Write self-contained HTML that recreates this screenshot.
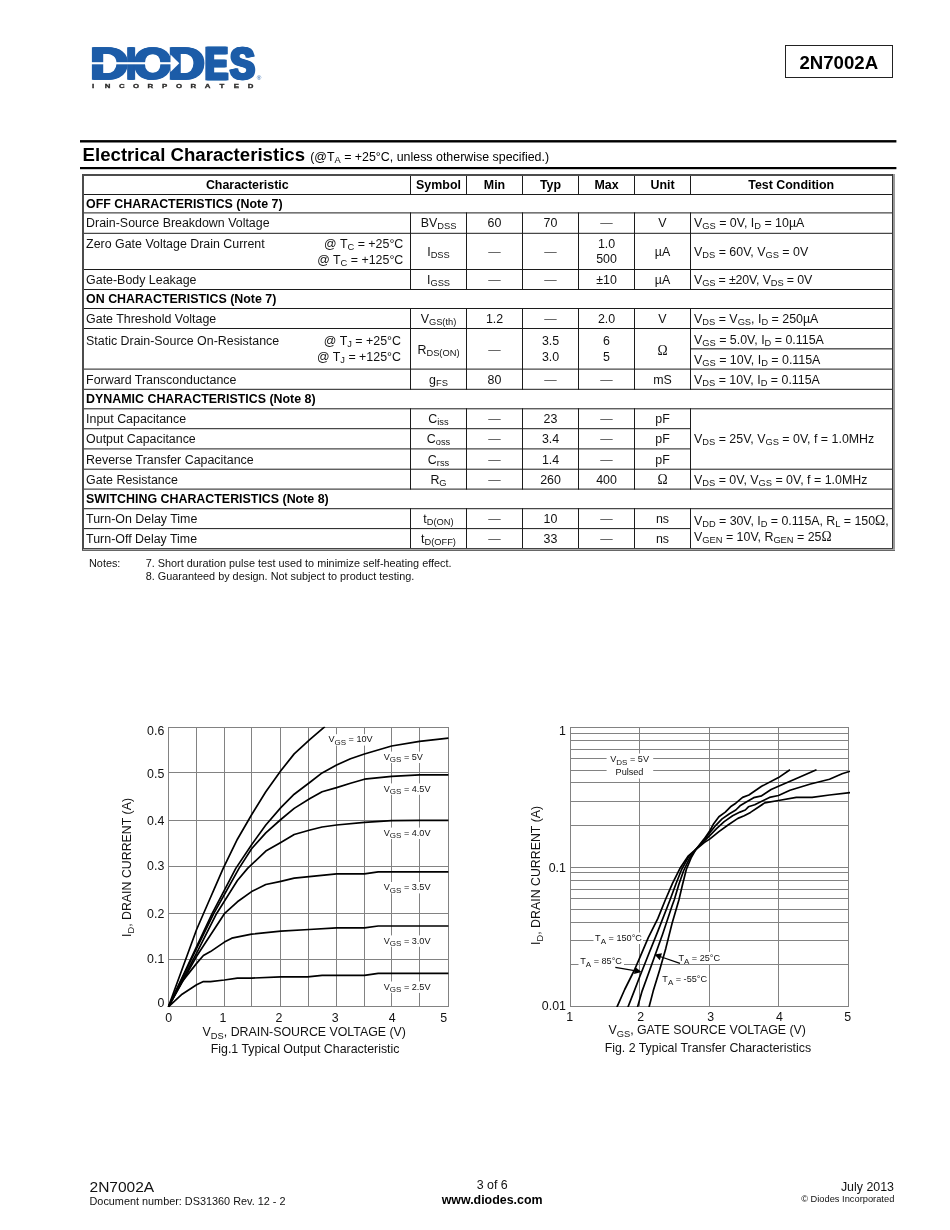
<!DOCTYPE html>
<html lang="en"><head><meta charset="utf-8"><title>2N7002A - Electrical Characteristics</title>
<style>
html,body{margin:0;padding:0;background:#fff}
body{width:950px;height:1230px;position:relative;overflow:hidden;font-family:"Liberation Sans",Arial,Helvetica,sans-serif;color:#111}
.sb{font-size:9.31px;position:relative;top:2px;line-height:0}
.sym{font-family:"Liberation Serif","DejaVu Serif",serif;font-size:110%;line-height:0}
.dash{color:#555}
svg text{font-family:"Liberation Sans",Arial,Helvetica,sans-serif}
#page{position:absolute;left:0;top:0;width:950px;height:1230px;will-change:transform}
</style></head><body><div id="page">

<svg width="950" height="110" viewBox="0 0 950 110" style="position:absolute;left:0;top:0" aria-label="Diodes Incorporated logo">
<filter id="hx" x="-5%" y="-5%" width="110%" height="110%"><feOffset in="SourceGraphic" dx="-0.9" dy="0" result="a"/><feOffset in="SourceGraphic" dx="0.9" dy="0" result="b"/><feMerge><feMergeNode in="a"/><feMergeNode in="b"/><feMergeNode in="SourceGraphic"/></feMerge></filter>
<g filter="url(#hx)">
<text transform="translate(90.17,78.95) scale(1.168,1)" font-size="45.04" font-weight="bold" fill="#1c5ca8" stroke="#1c5ca8" stroke-width="1.5" stroke-linejoin="miter">D</text>
<text transform="translate(126.50,78.95) scale(0.745,1)" font-size="45.04" font-weight="bold" fill="#1c5ca8" stroke="#1c5ca8" stroke-width="1.5" stroke-linejoin="miter">I</text>
<text transform="translate(134.02,78.85) scale(1.076,1)" font-size="44.75" font-weight="bold" fill="#1c5ca8" stroke="#1c5ca8" stroke-width="1.7" stroke-linejoin="miter">O</text>
<text transform="translate(168.32,78.95) scale(1.121,1)" font-size="45.04" font-weight="bold" fill="#1c5ca8" stroke="#1c5ca8" stroke-width="1.5" stroke-linejoin="miter">D</text>
<text transform="translate(204.90,78.50) scale(0.784,1)" font-size="43.74" font-weight="bold" fill="#1c5ca8" stroke="#1c5ca8" stroke-width="2.4" stroke-linejoin="miter">E</text>
<text transform="translate(230.35,78.55) scale(0.836,1)" font-size="43.88" font-weight="bold" fill="#1c5ca8" stroke="#1c5ca8" stroke-width="2.3" stroke-linejoin="miter">S</text>
</g>
<rect x="91" y="62.2" width="80.5" height="2.1" fill="#fff"/>
<polygon points="170.5,54.4 170.5,72.1 179.3,63.25" fill="#fff"/>
<text x="256.7" y="80.4" font-size="6.2" fill="#1c5ca8">&#174;</text>
<text transform="scale(1.4,1)" x="66.57 76.79 87.01 97.24 107.46 117.68 127.90 138.12 148.34 158.56 168.79 179.01" y="88.1" font-size="5.6" font-weight="bold" text-anchor="middle" fill="#2b2a29" stroke="#2b2a29" stroke-width="0.3">INCORPORATED</text>
</svg>
<div style="position:absolute;left:785px;top:45px;width:106px;height:31px;border:1px solid #222;box-sizing:content-box"></div>
<div style="position:absolute;left:538.80px;width:600px;text-align:center;top:55.56px;font-size:18.63px;line-height:14.0px;font-weight:bold;color:#000;white-space:nowrap;">2N7002A</div>
<div style="position:absolute;left:82.60px;top:147.56px;font-size:18.63px;line-height:14.0px;font-weight:bold;color:#000;white-space:nowrap;">Electrical Characteristics <span style="font-size:12.42px;font-weight:normal">(@T<span class="sb">A</span> = +25&deg;C, unless otherwise specified.)</span></div>
<div style="position:absolute;left:-52.75px;width:600px;text-align:center;top:177.72px;font-size:12.42px;line-height:14.0px;font-weight:bold;color:#000;white-space:nowrap;">Characteristic</div>
<div style="position:absolute;left:138.50px;width:600px;text-align:center;top:177.72px;font-size:12.42px;line-height:14.0px;font-weight:bold;color:#000;white-space:nowrap;">Symbol</div>
<div style="position:absolute;left:194.50px;width:600px;text-align:center;top:177.72px;font-size:12.42px;line-height:14.0px;font-weight:bold;color:#000;white-space:nowrap;">Min</div>
<div style="position:absolute;left:250.50px;width:600px;text-align:center;top:177.72px;font-size:12.42px;line-height:14.0px;font-weight:bold;color:#000;white-space:nowrap;">Typ</div>
<div style="position:absolute;left:306.50px;width:600px;text-align:center;top:177.72px;font-size:12.42px;line-height:14.0px;font-weight:bold;color:#000;white-space:nowrap;">Max</div>
<div style="position:absolute;left:362.50px;width:600px;text-align:center;top:177.72px;font-size:12.42px;line-height:14.0px;font-weight:bold;color:#000;white-space:nowrap;">Unit</div>
<div style="position:absolute;left:491.25px;width:600px;text-align:center;top:177.72px;font-size:12.42px;line-height:14.0px;font-weight:bold;color:#000;white-space:nowrap;">Test Condition</div>
<div style="position:absolute;left:86.10px;top:196.72px;font-size:12.42px;line-height:14.0px;font-weight:bold;color:#000;white-space:nowrap;">OFF CHARACTERISTICS (Note 7)</div>
<div style="position:absolute;left:86.10px;top:215.72px;font-size:12.42px;line-height:14.0px;color:#111;white-space:nowrap;">Drain-Source Breakdown Voltage</div>
<div style="position:absolute;left:138.50px;width:600px;text-align:center;top:215.72px;font-size:12.42px;line-height:14.0px;color:#111;white-space:nowrap;">BV<span class="sb">DSS</span></div>
<div style="position:absolute;left:194.50px;width:600px;text-align:center;top:215.72px;font-size:12.42px;line-height:14.0px;color:#111;white-space:nowrap;">60</div>
<div style="position:absolute;left:250.50px;width:600px;text-align:center;top:215.72px;font-size:12.42px;line-height:14.0px;color:#111;white-space:nowrap;">70</div>
<div style="position:absolute;left:306.50px;width:600px;text-align:center;top:215.72px;font-size:12.42px;line-height:14.0px;color:#111;white-space:nowrap;"><span class="dash">&mdash;</span></div>
<div style="position:absolute;left:362.50px;width:600px;text-align:center;top:215.72px;font-size:12.42px;line-height:14.0px;color:#111;white-space:nowrap;">V</div>
<div style="position:absolute;left:694.00px;top:215.72px;font-size:12.42px;line-height:14.0px;color:#111;white-space:nowrap;">V<span class="sb">GS</span> = 0V, I<span class="sb">D</span> = 10&micro;A</div>
<div style="position:absolute;left:86.10px;top:236.72px;font-size:12.42px;line-height:14.0px;color:#111;white-space:nowrap;">Zero Gate Voltage Drain Current</div>
<div style="position:absolute;left:-196.70px;width:600px;text-align:right;top:236.72px;font-size:12.42px;line-height:14.0px;color:#111;white-space:nowrap;">@ T<span class="sb">C</span> = +25&deg;C</div>
<div style="position:absolute;left:-196.70px;width:600px;text-align:right;top:252.72px;font-size:12.42px;line-height:14.0px;color:#111;white-space:nowrap;">@ T<span class="sb">C</span> = +125&deg;C</div>
<div style="position:absolute;left:138.50px;width:600px;text-align:center;top:244.72px;font-size:12.42px;line-height:14.0px;color:#111;white-space:nowrap;">I<span class="sb">DSS</span></div>
<div style="position:absolute;left:194.50px;width:600px;text-align:center;top:244.72px;font-size:12.42px;line-height:14.0px;color:#111;white-space:nowrap;"><span class="dash">&mdash;</span></div>
<div style="position:absolute;left:250.50px;width:600px;text-align:center;top:244.72px;font-size:12.42px;line-height:14.0px;color:#111;white-space:nowrap;"><span class="dash">&mdash;</span></div>
<div style="position:absolute;left:306.50px;width:600px;text-align:center;top:236.72px;font-size:12.42px;line-height:14.0px;color:#111;white-space:nowrap;">1.0</div>
<div style="position:absolute;left:306.50px;width:600px;text-align:center;top:251.72px;font-size:12.42px;line-height:14.0px;color:#111;white-space:nowrap;">500</div>
<div style="position:absolute;left:362.50px;width:600px;text-align:center;top:244.72px;font-size:12.42px;line-height:14.0px;color:#111;white-space:nowrap;">&micro;A</div>
<div style="position:absolute;left:694.00px;top:244.72px;font-size:12.42px;line-height:14.0px;color:#111;white-space:nowrap;">V<span class="sb">DS</span> = 60V, V<span class="sb">GS</span> = 0V</div>
<div style="position:absolute;left:86.10px;top:272.72px;font-size:12.42px;line-height:14.0px;color:#111;white-space:nowrap;">Gate-Body Leakage</div>
<div style="position:absolute;left:138.50px;width:600px;text-align:center;top:272.72px;font-size:12.42px;line-height:14.0px;color:#111;white-space:nowrap;">I<span class="sb">GSS</span></div>
<div style="position:absolute;left:194.50px;width:600px;text-align:center;top:272.72px;font-size:12.42px;line-height:14.0px;color:#111;white-space:nowrap;"><span class="dash">&mdash;</span></div>
<div style="position:absolute;left:250.50px;width:600px;text-align:center;top:272.72px;font-size:12.42px;line-height:14.0px;color:#111;white-space:nowrap;"><span class="dash">&mdash;</span></div>
<div style="position:absolute;left:306.50px;width:600px;text-align:center;top:272.72px;font-size:12.42px;line-height:14.0px;color:#111;white-space:nowrap;">&plusmn;10</div>
<div style="position:absolute;left:362.50px;width:600px;text-align:center;top:272.72px;font-size:12.42px;line-height:14.0px;color:#111;white-space:nowrap;">&micro;A</div>
<div style="position:absolute;left:694.00px;top:272.72px;font-size:12.42px;line-height:14.0px;color:#111;white-space:nowrap;letter-spacing:-0.15px;">V<span class="sb">GS</span> = &plusmn;20V, V<span class="sb">DS</span> = 0V</div>
<div style="position:absolute;left:86.10px;top:291.72px;font-size:12.42px;line-height:14.0px;font-weight:bold;color:#000;white-space:nowrap;">ON CHARACTERISTICS (Note 7)</div>
<div style="position:absolute;left:86.10px;top:311.72px;font-size:12.42px;line-height:14.0px;color:#111;white-space:nowrap;">Gate Threshold Voltage</div>
<div style="position:absolute;left:138.50px;width:600px;text-align:center;top:311.72px;font-size:12.42px;line-height:14.0px;color:#111;white-space:nowrap;">V<span class="sb">GS(th)</span></div>
<div style="position:absolute;left:194.50px;width:600px;text-align:center;top:311.72px;font-size:12.42px;line-height:14.0px;color:#111;white-space:nowrap;">1.2</div>
<div style="position:absolute;left:250.50px;width:600px;text-align:center;top:311.72px;font-size:12.42px;line-height:14.0px;color:#111;white-space:nowrap;"><span class="dash">&mdash;</span></div>
<div style="position:absolute;left:306.50px;width:600px;text-align:center;top:311.72px;font-size:12.42px;line-height:14.0px;color:#111;white-space:nowrap;">2.0</div>
<div style="position:absolute;left:362.50px;width:600px;text-align:center;top:311.72px;font-size:12.42px;line-height:14.0px;color:#111;white-space:nowrap;">V</div>
<div style="position:absolute;left:694.00px;top:311.72px;font-size:12.42px;line-height:14.0px;color:#111;white-space:nowrap;">V<span class="sb">DS</span> = V<span class="sb">GS</span>, I<span class="sb">D</span> = 250&micro;A</div>
<div style="position:absolute;left:86.10px;top:333.72px;font-size:12.42px;line-height:14.0px;color:#111;white-space:nowrap;">Static Drain-Source On-Resistance</div>
<div style="position:absolute;left:-199.00px;width:600px;text-align:right;top:333.72px;font-size:12.42px;line-height:14.0px;color:#111;white-space:nowrap;">@ T<span class="sb">J</span> = +25&deg;C</div>
<div style="position:absolute;left:-199.00px;width:600px;text-align:right;top:349.72px;font-size:12.42px;line-height:14.0px;color:#111;white-space:nowrap;">@ T<span class="sb">J</span> = +125&deg;C</div>
<div style="position:absolute;left:138.50px;width:600px;text-align:center;top:342.72px;font-size:12.42px;line-height:14.0px;color:#111;white-space:nowrap;">R<span class="sb">DS(ON)</span></div>
<div style="position:absolute;left:194.50px;width:600px;text-align:center;top:342.72px;font-size:12.42px;line-height:14.0px;color:#111;white-space:nowrap;"><span class="dash">&mdash;</span></div>
<div style="position:absolute;left:250.50px;width:600px;text-align:center;top:333.72px;font-size:12.42px;line-height:14.0px;color:#111;white-space:nowrap;">3.5</div>
<div style="position:absolute;left:250.50px;width:600px;text-align:center;top:349.72px;font-size:12.42px;line-height:14.0px;color:#111;white-space:nowrap;">3.0</div>
<div style="position:absolute;left:306.50px;width:600px;text-align:center;top:333.72px;font-size:12.42px;line-height:14.0px;color:#111;white-space:nowrap;">6</div>
<div style="position:absolute;left:306.50px;width:600px;text-align:center;top:349.72px;font-size:12.42px;line-height:14.0px;color:#111;white-space:nowrap;">5</div>
<div style="position:absolute;left:362.50px;width:600px;text-align:center;top:343.72px;font-size:12.42px;line-height:14.0px;color:#111;white-space:nowrap;"><span class="sym">&Omega;</span></div>
<div style="position:absolute;left:694.00px;top:332.72px;font-size:12.42px;line-height:14.0px;color:#111;white-space:nowrap;">V<span class="sb">GS</span> = 5.0V, I<span class="sb">D</span> = 0.115A</div>
<div style="position:absolute;left:694.00px;top:352.72px;font-size:12.42px;line-height:14.0px;color:#111;white-space:nowrap;">V<span class="sb">GS</span> = 10V, I<span class="sb">D</span> = 0.115A</div>
<div style="position:absolute;left:86.10px;top:372.72px;font-size:12.42px;line-height:14.0px;color:#111;white-space:nowrap;">Forward Transconductance</div>
<div style="position:absolute;left:138.50px;width:600px;text-align:center;top:372.72px;font-size:12.42px;line-height:14.0px;color:#111;white-space:nowrap;">g<span class="sb">FS</span></div>
<div style="position:absolute;left:194.50px;width:600px;text-align:center;top:372.72px;font-size:12.42px;line-height:14.0px;color:#111;white-space:nowrap;">80</div>
<div style="position:absolute;left:250.50px;width:600px;text-align:center;top:372.72px;font-size:12.42px;line-height:14.0px;color:#111;white-space:nowrap;"><span class="dash">&mdash;</span></div>
<div style="position:absolute;left:306.50px;width:600px;text-align:center;top:372.72px;font-size:12.42px;line-height:14.0px;color:#111;white-space:nowrap;"><span class="dash">&mdash;</span></div>
<div style="position:absolute;left:362.50px;width:600px;text-align:center;top:372.72px;font-size:12.42px;line-height:14.0px;color:#111;white-space:nowrap;">mS</div>
<div style="position:absolute;left:694.00px;top:372.72px;font-size:12.42px;line-height:14.0px;color:#111;white-space:nowrap;">V<span class="sb">DS</span> = 10V, I<span class="sb">D</span> = 0.115A</div>
<div style="position:absolute;left:86.10px;top:391.72px;font-size:12.42px;line-height:14.0px;font-weight:bold;color:#000;white-space:nowrap;">DYNAMIC CHARACTERISTICS (Note 8)</div>
<div style="position:absolute;left:86.10px;top:411.72px;font-size:12.42px;line-height:14.0px;color:#111;white-space:nowrap;">Input Capacitance</div>
<div style="position:absolute;left:138.50px;width:600px;text-align:center;top:411.72px;font-size:12.42px;line-height:14.0px;color:#111;white-space:nowrap;">C<span class="sb">iss</span></div>
<div style="position:absolute;left:194.50px;width:600px;text-align:center;top:411.72px;font-size:12.42px;line-height:14.0px;color:#111;white-space:nowrap;"><span class="dash">&mdash;</span></div>
<div style="position:absolute;left:250.50px;width:600px;text-align:center;top:411.72px;font-size:12.42px;line-height:14.0px;color:#111;white-space:nowrap;">23</div>
<div style="position:absolute;left:306.50px;width:600px;text-align:center;top:411.72px;font-size:12.42px;line-height:14.0px;color:#111;white-space:nowrap;"><span class="dash">&mdash;</span></div>
<div style="position:absolute;left:362.50px;width:600px;text-align:center;top:411.72px;font-size:12.42px;line-height:14.0px;color:#111;white-space:nowrap;">pF</div>
<div style="position:absolute;left:86.10px;top:431.72px;font-size:12.42px;line-height:14.0px;color:#111;white-space:nowrap;">Output Capacitance</div>
<div style="position:absolute;left:138.50px;width:600px;text-align:center;top:431.72px;font-size:12.42px;line-height:14.0px;color:#111;white-space:nowrap;">C<span class="sb">oss</span></div>
<div style="position:absolute;left:194.50px;width:600px;text-align:center;top:431.72px;font-size:12.42px;line-height:14.0px;color:#111;white-space:nowrap;"><span class="dash">&mdash;</span></div>
<div style="position:absolute;left:250.50px;width:600px;text-align:center;top:431.72px;font-size:12.42px;line-height:14.0px;color:#111;white-space:nowrap;">3.4</div>
<div style="position:absolute;left:306.50px;width:600px;text-align:center;top:431.72px;font-size:12.42px;line-height:14.0px;color:#111;white-space:nowrap;"><span class="dash">&mdash;</span></div>
<div style="position:absolute;left:362.50px;width:600px;text-align:center;top:431.72px;font-size:12.42px;line-height:14.0px;color:#111;white-space:nowrap;">pF</div>
<div style="position:absolute;left:694.00px;top:431.72px;font-size:12.42px;line-height:14.0px;color:#111;white-space:nowrap;">V<span class="sb">DS</span> = 25V, V<span class="sb">GS</span> = 0V, f = 1.0MHz</div>
<div style="position:absolute;left:86.10px;top:452.72px;font-size:12.42px;line-height:14.0px;color:#111;white-space:nowrap;">Reverse Transfer Capacitance</div>
<div style="position:absolute;left:138.50px;width:600px;text-align:center;top:452.72px;font-size:12.42px;line-height:14.0px;color:#111;white-space:nowrap;">C<span class="sb">rss</span></div>
<div style="position:absolute;left:194.50px;width:600px;text-align:center;top:452.72px;font-size:12.42px;line-height:14.0px;color:#111;white-space:nowrap;"><span class="dash">&mdash;</span></div>
<div style="position:absolute;left:250.50px;width:600px;text-align:center;top:452.72px;font-size:12.42px;line-height:14.0px;color:#111;white-space:nowrap;">1.4</div>
<div style="position:absolute;left:306.50px;width:600px;text-align:center;top:452.72px;font-size:12.42px;line-height:14.0px;color:#111;white-space:nowrap;"><span class="dash">&mdash;</span></div>
<div style="position:absolute;left:362.50px;width:600px;text-align:center;top:452.72px;font-size:12.42px;line-height:14.0px;color:#111;white-space:nowrap;">pF</div>
<div style="position:absolute;left:86.10px;top:472.72px;font-size:12.42px;line-height:14.0px;color:#111;white-space:nowrap;">Gate Resistance</div>
<div style="position:absolute;left:138.50px;width:600px;text-align:center;top:472.72px;font-size:12.42px;line-height:14.0px;color:#111;white-space:nowrap;">R<span class="sb">G</span></div>
<div style="position:absolute;left:194.50px;width:600px;text-align:center;top:472.72px;font-size:12.42px;line-height:14.0px;color:#111;white-space:nowrap;"><span class="dash">&mdash;</span></div>
<div style="position:absolute;left:250.50px;width:600px;text-align:center;top:472.72px;font-size:12.42px;line-height:14.0px;color:#111;white-space:nowrap;">260</div>
<div style="position:absolute;left:306.50px;width:600px;text-align:center;top:472.72px;font-size:12.42px;line-height:14.0px;color:#111;white-space:nowrap;">400</div>
<div style="position:absolute;left:362.50px;width:600px;text-align:center;top:472.72px;font-size:12.42px;line-height:14.0px;color:#111;white-space:nowrap;"><span class="sym">&Omega;</span></div>
<div style="position:absolute;left:694.00px;top:472.72px;font-size:12.42px;line-height:14.0px;color:#111;white-space:nowrap;">V<span class="sb">DS</span> = 0V, V<span class="sb">GS</span> = 0V, f = 1.0MHz</div>
<div style="position:absolute;left:86.10px;top:491.72px;font-size:12.42px;line-height:14.0px;font-weight:bold;color:#000;white-space:nowrap;">SWITCHING CHARACTERISTICS (Note 8)</div>
<div style="position:absolute;left:86.10px;top:511.72px;font-size:12.42px;line-height:14.0px;color:#111;white-space:nowrap;">Turn-On Delay Time</div>
<div style="position:absolute;left:138.50px;width:600px;text-align:center;top:511.72px;font-size:12.42px;line-height:14.0px;color:#111;white-space:nowrap;">t<span class="sb">D(ON)</span></div>
<div style="position:absolute;left:194.50px;width:600px;text-align:center;top:511.72px;font-size:12.42px;line-height:14.0px;color:#111;white-space:nowrap;"><span class="dash">&mdash;</span></div>
<div style="position:absolute;left:250.50px;width:600px;text-align:center;top:511.72px;font-size:12.42px;line-height:14.0px;color:#111;white-space:nowrap;">10</div>
<div style="position:absolute;left:306.50px;width:600px;text-align:center;top:511.72px;font-size:12.42px;line-height:14.0px;color:#111;white-space:nowrap;"><span class="dash">&mdash;</span></div>
<div style="position:absolute;left:362.50px;width:600px;text-align:center;top:511.72px;font-size:12.42px;line-height:14.0px;color:#111;white-space:nowrap;">ns</div>
<div style="position:absolute;left:86.10px;top:531.72px;font-size:12.42px;line-height:14.0px;color:#111;white-space:nowrap;">Turn-Off Delay Time</div>
<div style="position:absolute;left:138.50px;width:600px;text-align:center;top:531.72px;font-size:12.42px;line-height:14.0px;color:#111;white-space:nowrap;">t<span class="sb">D(OFF)</span></div>
<div style="position:absolute;left:194.50px;width:600px;text-align:center;top:531.72px;font-size:12.42px;line-height:14.0px;color:#111;white-space:nowrap;"><span class="dash">&mdash;</span></div>
<div style="position:absolute;left:250.50px;width:600px;text-align:center;top:531.72px;font-size:12.42px;line-height:14.0px;color:#111;white-space:nowrap;">33</div>
<div style="position:absolute;left:306.50px;width:600px;text-align:center;top:531.72px;font-size:12.42px;line-height:14.0px;color:#111;white-space:nowrap;"><span class="dash">&mdash;</span></div>
<div style="position:absolute;left:362.50px;width:600px;text-align:center;top:531.72px;font-size:12.42px;line-height:14.0px;color:#111;white-space:nowrap;">ns</div>
<div style="position:absolute;left:694.00px;top:513.72px;font-size:12.42px;line-height:14.0px;color:#111;white-space:nowrap;letter-spacing:-0.04px;">V<span class="sb">DD</span> = 30V, I<span class="sb">D</span> = 0.115A, R<span class="sb">L</span> = 150<span class="sym">&Omega;</span>,</div>
<div style="position:absolute;left:694.00px;top:529.72px;font-size:12.42px;line-height:14.0px;color:#111;white-space:nowrap;">V<span class="sb">GEN</span> = 10V, R<span class="sb">GEN</span> = 25<span class="sym">&Omega;</span></div>
<svg width="950" height="1230" viewBox="0 0 950 1230" style="position:absolute;left:0;top:0"><rect x="80.00" y="140.10" width="816.40" height="2.4" fill="#000"/><rect x="80.00" y="167.00" width="816.40" height="2.2" fill="#000"/><rect x="82.00" y="174.00" width="811.00" height="2" fill="#4c4c4c"/><rect x="82.00" y="174.00" width="2" height="376.00" fill="#4c4c4c"/><rect x="892.00" y="174.00" width="1" height="375.00" fill="#333"/><rect x="893.00" y="174.00" width="2" height="377.00" fill="#999"/><rect x="82.00" y="548.00" width="811.00" height="1" fill="#444"/><rect x="83.00" y="549.00" width="812.00" height="1" fill="#aaa"/><rect x="82.00" y="550.00" width="813.00" height="1" fill="#666"/><rect x="84.00" y="194.00" width="808.00" height="1" fill="#1c1c1c"/><rect x="84.00" y="212.40" width="808.00" height="1" fill="#1c1c1c"/><rect x="84.00" y="232.80" width="808.00" height="1" fill="#1c1c1c"/><rect x="84.00" y="269.00" width="808.00" height="1" fill="#1c1c1c"/><rect x="84.00" y="289.00" width="808.00" height="1" fill="#1c1c1c"/><rect x="84.00" y="308.00" width="808.00" height="1" fill="#1c1c1c"/><rect x="84.00" y="328.00" width="808.00" height="1" fill="#1c1c1c"/><rect x="84.00" y="368.60" width="808.00" height="1" fill="#1c1c1c"/><rect x="84.00" y="388.80" width="808.00" height="1" fill="#1c1c1c"/><rect x="84.00" y="408.30" width="808.00" height="1" fill="#1c1c1c"/><rect x="84.00" y="428.20" width="606.00" height="1" fill="#1c1c1c"/><rect x="84.00" y="448.40" width="606.00" height="1" fill="#1c1c1c"/><rect x="84.00" y="468.70" width="808.00" height="1" fill="#1c1c1c"/><rect x="84.00" y="488.60" width="808.00" height="1" fill="#1c1c1c"/><rect x="84.00" y="508.20" width="808.00" height="1" fill="#1c1c1c"/><rect x="84.00" y="528.10" width="606.00" height="1" fill="#1c1c1c"/><rect x="690.00" y="348.30" width="202.00" height="1.1" fill="#1c1c1c"/><rect x="410.00" y="176.00" width="1" height="19.00" fill="#1c1c1c"/><rect x="466.00" y="176.00" width="1" height="19.00" fill="#1c1c1c"/><rect x="522.00" y="176.00" width="1" height="19.00" fill="#1c1c1c"/><rect x="578.00" y="176.00" width="1" height="19.00" fill="#1c1c1c"/><rect x="634.00" y="176.00" width="1" height="19.00" fill="#1c1c1c"/><rect x="690.00" y="176.00" width="1" height="19.00" fill="#1c1c1c"/><rect x="410.00" y="212.40" width="1" height="77.60" fill="#1c1c1c"/><rect x="466.00" y="212.40" width="1" height="77.60" fill="#1c1c1c"/><rect x="522.00" y="212.40" width="1" height="77.60" fill="#1c1c1c"/><rect x="578.00" y="212.40" width="1" height="77.60" fill="#1c1c1c"/><rect x="634.00" y="212.40" width="1" height="77.60" fill="#1c1c1c"/><rect x="690.00" y="212.40" width="1" height="77.60" fill="#1c1c1c"/><rect x="410.00" y="308.00" width="1" height="81.80" fill="#1c1c1c"/><rect x="466.00" y="308.00" width="1" height="81.80" fill="#1c1c1c"/><rect x="522.00" y="308.00" width="1" height="81.80" fill="#1c1c1c"/><rect x="578.00" y="308.00" width="1" height="81.80" fill="#1c1c1c"/><rect x="634.00" y="308.00" width="1" height="81.80" fill="#1c1c1c"/><rect x="690.00" y="308.00" width="1" height="81.80" fill="#1c1c1c"/><rect x="410.00" y="408.30" width="1" height="81.30" fill="#1c1c1c"/><rect x="466.00" y="408.30" width="1" height="81.30" fill="#1c1c1c"/><rect x="522.00" y="408.30" width="1" height="81.30" fill="#1c1c1c"/><rect x="578.00" y="408.30" width="1" height="81.30" fill="#1c1c1c"/><rect x="634.00" y="408.30" width="1" height="81.30" fill="#1c1c1c"/><rect x="690.00" y="408.30" width="1" height="81.30" fill="#1c1c1c"/><rect x="410.00" y="508.20" width="1" height="39.80" fill="#1c1c1c"/><rect x="466.00" y="508.20" width="1" height="39.80" fill="#1c1c1c"/><rect x="522.00" y="508.20" width="1" height="39.80" fill="#1c1c1c"/><rect x="578.00" y="508.20" width="1" height="39.80" fill="#1c1c1c"/><rect x="634.00" y="508.20" width="1" height="39.80" fill="#1c1c1c"/><rect x="690.00" y="508.20" width="1" height="39.80" fill="#1c1c1c"/></svg>
<div style="position:absolute;left:89.00px;top:556.25px;font-size:10.87px;line-height:14.0px;color:#111;white-space:nowrap;">Notes:</div>
<div style="position:absolute;left:145.70px;top:556.25px;font-size:10.87px;line-height:14.0px;color:#111;white-space:nowrap;">7. Short duration pulse test used to minimize self-heating effect.</div>
<div style="position:absolute;left:145.70px;top:569.25px;font-size:10.87px;line-height:14.0px;color:#111;white-space:nowrap;">8. Guaranteed by design. Not subject to product testing.</div>
<svg width="950" height="400" viewBox="0 690 950 400" style="position:absolute;left:0;top:690px">
<g id="fig1">
<g stroke="#828282" stroke-width="1" fill="none">
<line x1="168.5" y1="727.0" x2="168.5" y2="1007.0"/>
<line x1="196.5" y1="727.0" x2="196.5" y2="1007.0"/>
<line x1="224.5" y1="727.0" x2="224.5" y2="1007.0"/>
<line x1="251.5" y1="727.0" x2="251.5" y2="1007.0"/>
<line x1="280.5" y1="727.0" x2="280.5" y2="1007.0"/>
<line x1="308.5" y1="727.0" x2="308.5" y2="1007.0"/>
<line x1="336.5" y1="727.0" x2="336.5" y2="1007.0"/>
<line x1="364.5" y1="727.0" x2="364.5" y2="1007.0"/>
<line x1="391.5" y1="727.0" x2="391.5" y2="1007.0"/>
<line x1="419.5" y1="727.0" x2="419.5" y2="1007.0"/>
<line x1="448.5" y1="727.0" x2="448.5" y2="1007.0"/>
<line x1="168.0" y1="727.5" x2="449.0" y2="727.5"/>
<line x1="168.0" y1="772.5" x2="449.0" y2="772.5"/>
<line x1="168.0" y1="820.5" x2="449.0" y2="820.5"/>
<line x1="168.0" y1="866.5" x2="449.0" y2="866.5"/>
<line x1="168.0" y1="913.5" x2="449.0" y2="913.5"/>
<line x1="168.0" y1="959.5" x2="449.0" y2="959.5"/>
<line x1="168.0" y1="1006.5" x2="449.0" y2="1006.5"/>
</g>
<clipPath id="c1"><rect x="167.4" y="726.6999999999999" width="282.0" height="280.6"/></clipPath>
<g clip-path="url(#c1)">
<polyline fill="none" stroke="#000" stroke-width="1.7" stroke-linejoin="round" stroke-linecap="butt" points="168.4,1006.8 196.6,929.5 210.5,897.5 223.2,868.4 237.4,839.2 251.6,814.7 265.8,791.8 280.8,770.8 294.2,753.9 310.0,739.3 324.9,726.6"/>
<polyline fill="none" stroke="#000" stroke-width="1.7" stroke-linejoin="round" stroke-linecap="butt" points="168.4,1006.8 196.6,946.7 212.1,913.7 235.8,868.4 251.6,844.7 265.8,825.0 280.8,807.6 294.2,794.2 310.0,782.2 322.1,772.9 336.6,765.0 350.5,758.7 364.4,754.0 391.6,746.0 419.5,741.3 448.4,738.2"/>
<polyline fill="none" stroke="#000" stroke-width="1.7" stroke-linejoin="round" stroke-linecap="butt" points="168.4,1006.8 196.6,948.5 213.7,913.7 239.0,868.4 251.6,848.7 265.8,832.9 280.8,819.5 294.2,808.4 310.0,798.5 322.1,791.8 336.6,787.6 350.5,783.2 364.4,779.2 391.6,776.4 419.5,774.8 448.4,774.8"/>
<polyline fill="none" stroke="#000" stroke-width="1.7" stroke-linejoin="round" stroke-linecap="butt" points="168.4,1006.8 196.6,953.2 216.5,913.7 237.4,880.5 247.6,868.4 265.8,851.1 280.8,842.4 294.2,834.5 310.0,830.0 322.1,827.0 336.6,825.0 364.4,822.3 391.6,820.6 419.5,820.4 448.4,820.4"/>
<polyline fill="none" stroke="#000" stroke-width="1.7" stroke-linejoin="round" stroke-linecap="butt" points="168.4,1006.8 196.6,956.3 224.4,913.7 237.4,901.8 251.6,891.6 265.8,884.5 280.8,881.3 294.2,878.2 309.2,876.6 336.6,873.9 364.4,873.9 378.2,871.8 448.4,871.8"/>
<polyline fill="none" stroke="#000" stroke-width="1.7" stroke-linejoin="round" stroke-linecap="butt" points="168.4,1006.8 182.1,981.6 196.6,963.4 203.4,955.5 210.5,951.6 224.4,942.1 231.8,938.2 251.6,934.2 280.8,931.1 309.2,929.5 336.6,927.9 364.4,927.9 378.2,926.0 448.4,926.0"/>
<polyline fill="none" stroke="#000" stroke-width="1.7" stroke-linejoin="round" stroke-linecap="butt" points="168.4,1006.8 182.1,994.2 196.6,984.7 203.4,981.6 210.5,981.6 224.4,980.0 237.4,978.1 251.6,978.1 280.8,976.8 307.6,976.8 322.1,975.3 364.4,975.3 378.2,973.4 448.4,973.4"/>
</g>
<rect x="326.9" y="734.2" width="45" height="11.4" fill="#fff"/>
<text x="328.40" y="742.40" font-size="9.15" text-anchor="start" fill="#111" >V<tspan font-size="8.0" dy="2.6">GS</tspan><tspan dy="-2.6"> = 10V</tspan></text>
<rect x="382.2" y="751.6" width="40" height="11.4" fill="#fff"/>
<text x="383.70" y="759.80" font-size="9.15" text-anchor="start" fill="#111" >V<tspan font-size="8.0" dy="2.6">GS</tspan><tspan dy="-2.6"> = 5V</tspan></text>
<rect x="382.2" y="783.4" width="46" height="11.4" fill="#fff"/>
<text x="383.70" y="791.60" font-size="9.15" text-anchor="start" fill="#111" >V<tspan font-size="8.0" dy="2.6">GS</tspan><tspan dy="-2.6"> = 4.5V</tspan></text>
<rect x="382.2" y="827.6" width="46" height="11.4" fill="#fff"/>
<text x="383.70" y="835.80" font-size="9.15" text-anchor="start" fill="#111" >V<tspan font-size="8.0" dy="2.6">GS</tspan><tspan dy="-2.6"> = 4.0V</tspan></text>
<rect x="382.2" y="882.0" width="46" height="11.4" fill="#fff"/>
<text x="383.70" y="890.20" font-size="9.15" text-anchor="start" fill="#111" >V<tspan font-size="8.0" dy="2.6">GS</tspan><tspan dy="-2.6"> = 3.5V</tspan></text>
<rect x="382.2" y="935.4" width="46" height="11.4" fill="#fff"/>
<text x="383.70" y="943.60" font-size="9.15" text-anchor="start" fill="#111" >V<tspan font-size="8.0" dy="2.6">GS</tspan><tspan dy="-2.6"> = 3.0V</tspan></text>
<rect x="382.2" y="981.5" width="46" height="11.4" fill="#fff"/>
<text x="383.70" y="989.70" font-size="9.15" text-anchor="start" fill="#111" >V<tspan font-size="8.0" dy="2.6">GS</tspan><tspan dy="-2.6"> = 2.5V</tspan></text>
<text x="164.30" y="735.25" font-size="12.36" text-anchor="end" fill="#111" >0.6</text>
<text x="164.30" y="777.85" font-size="12.36" text-anchor="end" fill="#111" >0.5</text>
<text x="164.30" y="824.75" font-size="12.36" text-anchor="end" fill="#111" >0.4</text>
<text x="164.30" y="870.25" font-size="12.36" text-anchor="end" fill="#111" >0.3</text>
<text x="164.30" y="917.95" font-size="12.36" text-anchor="end" fill="#111" >0.2</text>
<text x="164.30" y="963.45" font-size="12.36" text-anchor="end" fill="#111" >0.1</text>
<text x="164.30" y="1007.25" font-size="12.36" text-anchor="end" fill="#111" >0</text>
<text x="168.70" y="1021.90" font-size="12.36" text-anchor="middle" fill="#111" >0</text>
<text x="222.90" y="1021.90" font-size="12.36" text-anchor="middle" fill="#111" >1</text>
<text x="279.00" y="1021.90" font-size="12.36" text-anchor="middle" fill="#111" >2</text>
<text x="335.10" y="1021.90" font-size="12.36" text-anchor="middle" fill="#111" >3</text>
<text x="392.20" y="1021.90" font-size="12.36" text-anchor="middle" fill="#111" >4</text>
<text x="443.70" y="1021.90" font-size="12.36" text-anchor="middle" fill="#111" >5</text>
<text x="304.30" y="1036.40" font-size="12.36" text-anchor="middle" fill="#111" >V<tspan font-size="9.3" dy="3.0">DS</tspan><tspan dy="-3.0">, DRAIN-SOURCE VOLTAGE (V)</tspan></text>
<text x="305.10" y="1053.20" font-size="12.36" text-anchor="middle" fill="#111" >Fig.1 Typical Output Characteristic</text>
<text transform="translate(130.7,867.5) rotate(-90)" font-size="12.36" text-anchor="middle" fill="#111">I<tspan font-size="9.3" dy="3.0">D</tspan><tspan dy="-3.0">, DRAIN CURRENT (A)</tspan></text>
</g>
<g id="fig2">
<g stroke="#828282" stroke-width="1" fill="none">
<line x1="570.5" y1="727.0" x2="570.5" y2="1007.0"/>
<line x1="639.5" y1="727.0" x2="639.5" y2="1007.0"/>
<line x1="709.5" y1="727.0" x2="709.5" y2="1007.0"/>
<line x1="778.5" y1="727.0" x2="778.5" y2="1007.0"/>
<line x1="848.5" y1="727.0" x2="848.5" y2="1007.0"/>
<line x1="570.0" y1="727.5" x2="849.0" y2="727.5"/>
<line x1="570.0" y1="733.5" x2="849.0" y2="733.5"/>
<line x1="570.0" y1="740.5" x2="849.0" y2="740.5"/>
<line x1="570.0" y1="749.5" x2="849.0" y2="749.5"/>
<line x1="570.0" y1="758.5" x2="849.0" y2="758.5"/>
<line x1="570.0" y1="770.5" x2="849.0" y2="770.5"/>
<line x1="570.0" y1="782.5" x2="849.0" y2="782.5"/>
<line x1="570.0" y1="801.5" x2="849.0" y2="801.5"/>
<line x1="570.0" y1="825.5" x2="849.0" y2="825.5"/>
<line x1="570.0" y1="867.5" x2="849.0" y2="867.5"/>
<line x1="570.0" y1="872.5" x2="849.0" y2="872.5"/>
<line x1="570.0" y1="880.5" x2="849.0" y2="880.5"/>
<line x1="570.0" y1="889.5" x2="849.0" y2="889.5"/>
<line x1="570.0" y1="898.5" x2="849.0" y2="898.5"/>
<line x1="570.0" y1="909.5" x2="849.0" y2="909.5"/>
<line x1="570.0" y1="922.5" x2="849.0" y2="922.5"/>
<line x1="570.0" y1="940.5" x2="849.0" y2="940.5"/>
<line x1="570.0" y1="964.5" x2="849.0" y2="964.5"/>
<line x1="570.0" y1="1006.5" x2="849.0" y2="1006.5"/>
</g>
<rect x="606.6" y="753.5" width="46.6" height="25.0" fill="#fff"/>
<rect x="593.5" y="932.5" width="49.5" height="11.5" fill="#fff"/>
<rect x="578.5" y="955" width="45.5" height="12.0" fill="#fff"/>
<rect x="676.5" y="952" width="48.5" height="12.0" fill="#fff"/>
<rect x="660.5" y="973.5" width="48.0" height="12.0" fill="#fff"/>
<clipPath id="c2"><rect x="569.3" y="726.6999999999999" width="280.9000000000001" height="280.20000000000005"/></clipPath>
<g clip-path="url(#c2)">
<polyline fill="none" stroke="#000" stroke-width="1.7" stroke-linejoin="round" stroke-linecap="butt" points="616.9,1007.2 624.7,989.5 634.2,970.5 639.7,957.9 648.4,937.4 657.9,918.4 665.3,900.0 672.6,883.2 680.5,867.4 688.4,855.8 695.8,849.5 704.2,842.6 710.0,838.9 718.9,831.6 728.4,824.7 737.9,818.4 744.2,815.8 750.5,812.4 764.7,802.9 778.5,800.5 796.3,797.4 812.1,797.4 829.5,795.0 850.0,792.6"/>
<polyline fill="none" stroke="#000" stroke-width="1.7" stroke-linejoin="round" stroke-linecap="butt" points="627.9,1007.2 634.2,991.1 639.7,976.8 648.4,954.7 657.9,931.1 670.0,900.0 675.8,884.2 681.6,869.5 688.9,856.3 695.8,849.5 704.2,841.1 710.0,835.3 716.8,828.4 724.2,821.6 732.6,815.8 740.0,812.1 745.3,810.0 748.4,806.8 754.7,804.7 769.5,797.4 778.5,795.5 790.0,790.3 810.5,784.0 829.5,779.2 842.1,773.7 850.0,771.3"/>
<polyline fill="none" stroke="#000" stroke-width="1.7" stroke-linejoin="round" stroke-linecap="butt" points="637.5,1007.2 642.1,991.1 648.4,973.7 654.7,956.3 662.6,934.2 672.1,905.8 674.2,900.0 678.9,884.2 683.7,870.5 690.0,857.4 695.8,849.5 704.2,840.0 710.0,832.6 715.8,825.3 722.1,818.9 729.5,813.7 735.8,810.0 740.0,805.8 746.3,802.1 753.7,797.7 761.6,795.8 771.1,789.5 778.5,786.3 794.7,779.2 816.5,769.7"/>
<polyline fill="none" stroke="#000" stroke-width="1.7" stroke-linejoin="round" stroke-linecap="butt" points="649.0,1007.2 653.2,991.1 659.5,970.5 665.8,948.4 672.1,923.2 678.9,900.0 682.6,884.2 686.3,869.5 691.1,857.9 695.8,849.5 704.2,838.9 710.0,830.5 713.7,823.7 718.9,816.8 725.3,812.1 730.5,806.8 735.8,803.2 742.6,797.4 748.9,795.0 761.6,786.3 778.5,777.6 790.0,769.7"/>
</g>
<line x1="615.3" y1="967.4" x2="636" y2="970.9" stroke="#000" stroke-width="1.3"/>
<polygon points="641.6,971.9 634.0,973.9 635.2,966.9" fill="#000"/>
<line x1="680" y1="963.4" x2="660" y2="956.5" stroke="#000" stroke-width="1.3"/>
<polygon points="654.5,954.6 662.0,953.3 659.8,960.2" fill="#000"/>
<text x="610.20" y="762.00" font-size="9.15" text-anchor="start" fill="#111" >V<tspan font-size="8.0" dy="2.6">DS</tspan><tspan dy="-2.6"> = 5V</tspan></text>
<text x="629.50" y="775.20" font-size="9.15" text-anchor="middle" fill="#111" >Pulsed</text>
<text x="595.10" y="941.20" font-size="9.15" text-anchor="start" fill="#111" >T<tspan font-size="8.0" dy="2.9">A</tspan><tspan dy="-2.9"> = 150&#176;C</tspan></text>
<text x="580.20" y="963.60" font-size="9.15" text-anchor="start" fill="#111" >T<tspan font-size="8.0" dy="2.9">A</tspan><tspan dy="-2.9"> = 85&#176;C</tspan></text>
<text x="678.40" y="960.60" font-size="9.15" text-anchor="start" fill="#111" >T<tspan font-size="8.0" dy="2.9">A</tspan><tspan dy="-2.9"> = 25&#176;C</tspan></text>
<text x="662.30" y="982.10" font-size="9.15" text-anchor="start" fill="#111" >T<tspan font-size="8.0" dy="2.9">A</tspan><tspan dy="-2.9"> = -55&#176;C</tspan></text>
<text x="565.90" y="735.30" font-size="12.36" text-anchor="end" fill="#111" >1</text>
<text x="565.90" y="871.70" font-size="12.36" text-anchor="end" fill="#111" >0.1</text>
<text x="565.90" y="1010.20" font-size="12.36" text-anchor="end" fill="#111" >0.01</text>
<text x="569.70" y="1020.50" font-size="12.36" text-anchor="middle" fill="#111" >1</text>
<text x="640.80" y="1020.50" font-size="12.36" text-anchor="middle" fill="#111" >2</text>
<text x="710.60" y="1020.50" font-size="12.36" text-anchor="middle" fill="#111" >3</text>
<text x="779.50" y="1020.50" font-size="12.36" text-anchor="middle" fill="#111" >4</text>
<text x="847.70" y="1020.50" font-size="12.36" text-anchor="middle" fill="#111" >5</text>
<text x="707.20" y="1033.80" font-size="12.36" text-anchor="middle" fill="#111" >V<tspan font-size="9.3" dy="3.0">GS</tspan><tspan dy="-3.0">, GATE SOURCE VOLTAGE (V)</tspan></text>
<text x="707.90" y="1051.70" font-size="12.36" text-anchor="middle" fill="#111" >Fig. 2 Typical Transfer Characteristics</text>
<text transform="translate(539.8,875.4) rotate(-90)" font-size="12.36" text-anchor="middle" fill="#111">I<tspan font-size="9.3" dy="3.0">D</tspan><tspan dy="-3.0">, DRAIN CURRENT (A)</tspan></text>
</g>
</svg>
<div style="position:absolute;left:89.50px;top:1179.64px;font-size:15.52px;line-height:14.0px;color:#111;white-space:nowrap;">2N7002A</div>
<div style="position:absolute;left:89.50px;top:1194.25px;font-size:10.87px;line-height:14.0px;color:#111;white-space:nowrap;">Document number: DS31360 Rev. 12 - 2</div>
<div style="position:absolute;left:192.20px;width:600px;text-align:center;top:1177.72px;font-size:12.42px;line-height:14.0px;color:#111;white-space:nowrap;">3 of 6</div>
<div style="position:absolute;left:192.10px;width:600px;text-align:center;top:1192.72px;font-size:12.42px;line-height:14.0px;font-weight:bold;color:#000;white-space:nowrap;">www.diodes.com</div>
<div style="position:absolute;left:294.00px;width:600px;text-align:right;top:1179.72px;font-size:12.42px;line-height:14.0px;color:#111;white-space:nowrap;">July 2013</div>
<div style="position:absolute;left:294.30px;width:600px;text-align:right;top:1191.79px;font-size:9.31px;line-height:14.0px;color:#111;white-space:nowrap;">&copy; Diodes Incorporated</div>
</div></body></html>
